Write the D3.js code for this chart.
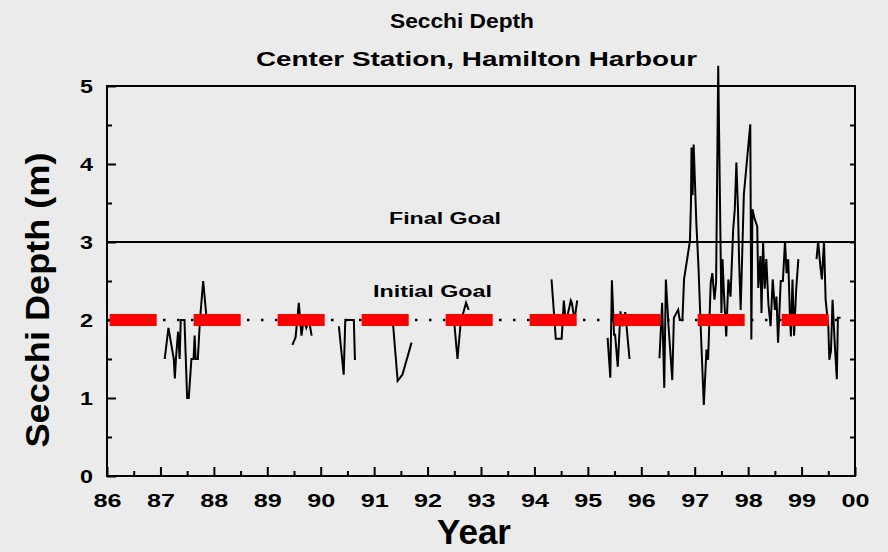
<!DOCTYPE html>
<html>
<head>
<meta charset="utf-8">
<script src="https://cdn.jsdelivr.net/npm/d3@7"></script>
<style>
  body { margin: 0; background: #ebebeb; }
  svg { display: block; font-family: "Liberation Sans", Arial, sans-serif; font-weight: bold; }
</style>
</head>
<body>
<svg width="888" height="552"></svg>
<script>
// sampling dates as decimal years (19xx), null depth = gap in the record
const sampleYear = [
  87.08, 87.15, 87.25, 87.27, 87.29, 87.33, 87.36, 87.38, 87.45, 87.46, 87.50, 87.53, 87.58, 87.62, 87.64, 87.66, 87.70, 87.74, 87.80, 87.86, 88.0,
  89.47, 89.53, 89.59, 89.64, 89.68, 89.73, 89.78, 89.83, 90.0,
  90.34, 90.43, 90.46, 90.62, 90.64, 90.66, 91.0,
  91.35, 91.44, 91.53, 91.70, 92.0,
  92.50, 92.56, 92.62, 92.72, 92.77, 93.0,
  94.32, 94.40, 94.51, 94.55, 94.59, 94.68, 94.70, 94.75, 94.80, 95.0,
  95.37, 95.42, 95.45, 95.49, 95.51, 95.56, 95.61, 95.65, 95.70, 95.78, 96.0,
  96.34, 96.39, 96.43, 96.46, 96.51, 96.58, 96.61, 96.69, 96.72, 96.77, 96.80, 96.91, 96.93, 96.94, 96.96, 96.98,
  97.03, 97.07, 97.12, 97.17, 97.22, 97.25, 97.30, 97.33, 97.37, 97.40, 97.44, 97.50, 97.52, 97.55, 97.59, 97.63,
  97.67, 97.72, 97.75, 97.78, 97.81, 97.83, 97.86, 97.92, 98.04, 98.06, 98.08, 98.12, 98.17, 98.19, 98.23, 98.25,
  98.28, 98.31, 98.34, 98.38, 98.42, 98.46, 98.50, 98.53, 98.56, 98.61, 98.65, 98.69, 98.72, 98.75, 98.78, 98.80,
  98.83, 98.86, 98.90, 98.94, 99.1,
  99.28, 99.31, 99.35, 99.38, 99.42, 99.45, 99.50, 99.52, 99.55, 99.58, 99.62, 99.66, 99.68, 99.73
];
const secchiDepth = [
  1.50, 1.90, 1.50, 1.25, 1.50, 1.85, 1.50, 2.00, 2.00, 1.80, 1.00, 1.00, 1.50, 1.50, 1.80, 1.50, 1.50, 2.00, 2.50, 2.05, null,
  1.68, 1.78, 2.22, 1.80, 2.00, 1.90, 2.00, 1.80, null,
  1.92, 1.30, 2.00, 2.00, 1.50, 1.50, null,
  1.98, 1.22, 1.30, 1.71, null,
  1.96, 1.50, 1.97, 2.22, 2.13, null,
  2.52, 1.76, 1.76, 2.25, 1.96, 2.25, 2.22, 2.00, 2.25, null,
  1.77, 1.26, 2.51, 1.81, 1.81, 1.40, 2.11, 1.92, 2.10, 1.50, null,
  1.51, 2.22, 1.13, 2.52, 1.92, 1.23, 2.03, 2.13, 2.00, 2.00, 2.52, 3.01, 3.50, 4.21, 3.60, 4.25,
  3.25, 2.69, 1.77, 0.91, 1.62, 1.49, 2.48, 2.60, 2.26, 2.48, 5.26, 2.09, 2.78, 2.30, 1.79, 2.52,
  2.30, 3.16, 3.42, 4.02, 3.42, 2.78, 2.13, 3.61, 4.51, 1.75, 3.42, 3.30, 3.20, 2.41, 2.82, 2.09,
  3.01, 2.40, 2.78, 2.20, 1.92, 2.52, 2.13, 2.30, 1.71, 2.50, 2.50, 3.01, 2.60, 2.78, 2.10, 1.79,
  2.52, 1.80, 2.40, 2.78, null,
  2.78, 3.01, 2.70, 2.52, 3.01, 2.26, 1.92, 1.49, 1.60, 2.26, 1.71, 1.24, 2.03, 2.03
];

const yearTicks = d3.range(86, 101);
const depthTicks = [0, 1, 2, 3, 4, 5];
const finalGoal = 3;
const initialGoal = 2;
const initialGoalSpan = [86.05, 99.55];

const svg = d3.select("svg");
const plotLeft = 107, plotRight = 855, plotTop = 86, plotBottom = 476;

const x = d3.scaleLinear().domain([86, 100]).range([plotLeft, plotRight]);
const y = d3.scaleLinear().domain([0, 5]).range([plotBottom, plotTop]);

// the original type is a wide bold face; stretch Liberation Sans to the measured widths
function wideText(sel, w) {
  sel.attr("textLength", w).attr("lengthAdjust", "spacingAndGlyphs");
}

// frame
svg.append("rect")
  .attr("x", plotLeft).attr("y", plotTop)
  .attr("width", plotRight - plotLeft).attr("height", plotBottom - plotTop)
  .attr("fill", "none").attr("stroke", "#000").attr("stroke-width", 2);

// bottom axis, inward ticks, minor at half years
const xMinor = d3.range(86.5, 100, 1);
svg.append("g").attr("transform", `translate(0,${plotBottom})`)
  .call(d3.axisBottom(x).tickValues(xMinor).tickSize(-5).tickFormat(""))
  .call(g => g.select(".domain").remove());
const xAxis = svg.append("g").attr("transform", `translate(0,${plotBottom})`)
  .call(d3.axisBottom(x).tickValues(yearTicks).tickSize(-9).tickPadding(18)
    .tickFormat(d => String(d % 100).padStart(2, "0")));
xAxis.select(".domain").remove();
xAxis.selectAll("text").attr("font-size", 19).attr("font-family", "Liberation Sans, Arial")
  .attr("font-weight", "bold").attr("fill", "#000").attr("dy", "0.71em")
  .call(wideText, 28);

// left axis
const yMinor = d3.range(0.5, 5, 1);
svg.append("g").attr("transform", `translate(${plotLeft},0)`)
  .call(d3.axisLeft(y).tickValues(yMinor).tickSize(-5).tickFormat(""))
  .call(g => g.select(".domain").remove());
const yAxis = svg.append("g").attr("transform", `translate(${plotLeft},0)`)
  .call(d3.axisLeft(y).tickValues(depthTicks).tickSize(-9).tickPadding(14).tickFormat(d3.format("d")));
yAxis.select(".domain").remove();
yAxis.selectAll("text").attr("font-size", 19).attr("font-family", "Liberation Sans, Arial")
  .attr("font-weight", "bold").attr("fill", "#000")
  .call(wideText, 13);

// right axis ticks
svg.append("g").attr("transform", `translate(${plotRight},0)`)
  .call(d3.axisRight(y).tickValues(d3.range(0.5, 5, 0.5)).tickSize(-5).tickFormat(""))
  .call(g => g.select(".domain").remove());

svg.selectAll(".tick line").attr("stroke", "#000").attr("stroke-width", 2);

// goals
svg.append("line")
  .attr("x1", x(86)).attr("x2", x(100))
  .attr("y1", y(finalGoal)).attr("y2", y(finalGoal))
  .attr("stroke", "#000").attr("stroke-width", 2);

svg.append("line")
  .attr("x1", x(86)).attr("x2", x(99.85))
  .attr("y1", y(initialGoal)).attr("y2", y(initialGoal))
  .attr("stroke", "#000").attr("stroke-width", 2.5)
  .attr("stroke-dasharray", "2.5,11.5");

// data line
const line = d3.line()
  .defined(d => d[1] != null)
  .x(d => x(d[0]))
  .y(d => y(d[1]));
svg.append("path")
  .datum(sampleYear.map((t, i) => [t, secchiDepth[i]]))
  .attr("d", line)
  .attr("fill", "none")
  .attr("stroke", "#000")
  .attr("stroke-width", 2)
  .attr("stroke-linejoin", "miter");

svg.append("line")
  .attr("x1", x(initialGoalSpan[0])).attr("x2", x(initialGoalSpan[1]))
  .attr("y1", y(initialGoal)).attr("y2", y(initialGoal))
  .attr("stroke", "#ff0000").attr("stroke-width", 12)
  .attr("stroke-dasharray", "47,37");

// labels
svg.append("text").attr("x", 445).attr("y", 224).attr("text-anchor", "middle")
  .attr("font-size", 16).text("Final Goal").call(wideText, 112);
svg.append("text").attr("x", 432.5).attr("y", 297).attr("text-anchor", "middle")
  .attr("font-size", 16).text("Initial Goal").call(wideText, 119);

svg.append("text").attr("x", 462).attr("y", 28).attr("text-anchor", "middle")
  .attr("font-size", 20).text("Secchi Depth").call(wideText, 144);
svg.append("text").attr("x", 476.5).attr("y", 66).attr("text-anchor", "middle")
  .attr("font-size", 20).text("Center Station, Hamilton Harbour").call(wideText, 441);

svg.append("text").attr("x", 474).attr("y", 544).attr("text-anchor", "middle")
  .attr("font-size", 35).text("Year");
svg.append("text")
  .attr("transform", "translate(49,300) rotate(-90)")
  .attr("text-anchor", "middle")
  .attr("font-size", 34).text("Secchi Depth (m)").call(wideText, 295);
</script>
</body>
</html>
